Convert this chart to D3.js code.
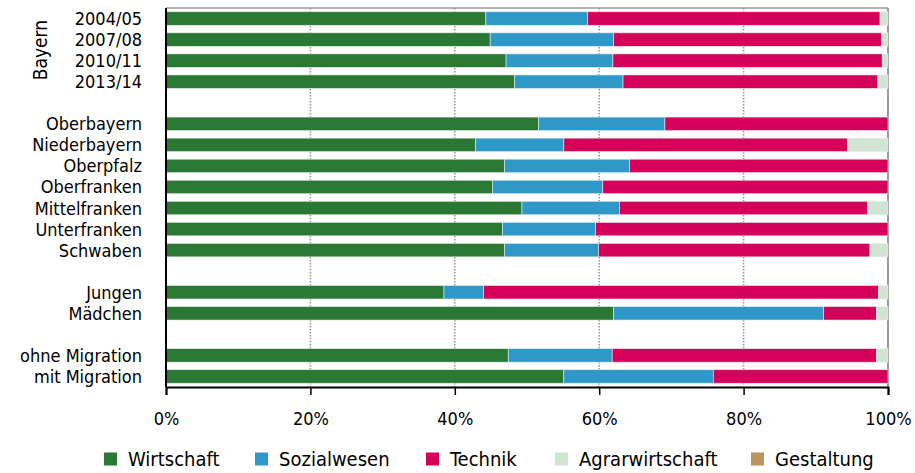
<!DOCTYPE html>
<html>
<head>
  <script src="https://cdnjs.cloudflare.com/ajax/libs/d3/7.8.5/d3.min.js"></script>
  <style>
    body { margin: 0; background: #fff; }
    svg { display: block; font-family: "DejaVu Sans Condensed", "DejaVu Sans", sans-serif; }
  </style>
</head>
<body>
<div id="chart"></div>
<script>
// rows, "" = empty spacer slot
var categories = ["2004/05", "2007/08", "2010/11", "2013/14", "",
    "Oberbayern", "Niederbayern", "Oberpfalz", "Oberfranken", "Mittelfranken", "Unterfranken", "Schwaben", "",
    "Jungen", "Mädchen", "",
    "ohne Migration", "mit Migration"];

var wirtschaft      = [44.3, 44.9, 47.1, 48.3, null, 51.6, 42.9, 46.9, 45.2, 49.3, 46.6, 46.9, null, 38.5, 62.0, null, 47.4, 55.1];
var sozialwesen     = [14.1, 17.1, 14.8, 15.0, null, 17.5, 12.2, 17.3, 15.3, 13.5, 12.9, 13.0, null,  5.5, 29.1, null, 14.4, 20.7];
var technik         = [40.5, 37.1, 37.3, 35.3, null, 30.9, 39.3, 35.8, 39.5, 34.4, 40.5, 37.6, null, 54.7,  7.3, null, 36.6, 24.2];
var agrarwirtschaft = [ 1.1,  0.9,  0.8,  1.4, null,  0.0,  5.6,  0.0,  0.0,  2.8,  0.0,  2.5, null,  1.3,  1.6, null,  1.6,  0.0];
var gestaltung      = [ 0.0,  0.0,  0.0,  0.0, null,  0.0,  0.0,  0.0,  0.0,  0.0,  0.0,  0.0, null,  0.0,  0.0, null,  0.0,  0.0];

var seriesNames = ["Wirtschaft", "Sozialwesen", "Technik", "Agrarwirtschaft", "Gestaltung"];
var seriesColors = ["#2a7834", "#2e99c9", "#d4005a", "#cfe5d1", "#b99660"];
var tickValues = [0, 20, 40, 60, 80, 100];
var tickLabels = ["0%", "20%", "40%", "60%", "80%", "100%"];

var width = 915, height = 473;
var margin = {top: 8, right: 27, bottom: 86, left: 166};

var svg = d3.select('#chart').append('svg')
    .attr('width', width)
    .attr('height', height);

var x = d3.scaleLinear()
    .domain([0, 100])
    .range([margin.left, width - margin.right]);

var y = d3.scaleBand()
    .domain(d3.range(categories.length))
    .range([margin.top, height - margin.bottom])
    .paddingInner(0.36)
    .paddingOuter(0.18);

// table for the stack
var table = categories.map(function(c, i) {
    return {
        idx: i, name: c,
        Wirtschaft: wirtschaft[i] || 0,
        Sozialwesen: sozialwesen[i] || 0,
        Technik: technik[i] || 0,
        Agrarwirtschaft: agrarwirtschaft[i] || 0,
        Gestaltung: gestaltung[i] || 0
    };
}).filter(function(d) { return d.name !== ""; });

var stacked = d3.stack().keys(seriesNames)(table);

//----------------------------------------
// grid lines (dotted)
svg.append('g').selectAll('line')
    .data([20, 40, 60, 80])
    .enter().append('line')
    .attr('x1', function(d) { return x(d); })
    .attr('x2', function(d) { return x(d); })
    .attr('y1', margin.top)
    .attr('y2', height - margin.bottom)
    .style('stroke', '#999')
    .style('stroke-width', 1.6)
    .style('stroke-dasharray', '1.5,1.5');

// frame top + right
svg.append('line')
    .attr('x1', x(0)).attr('x2', x(100))
    .attr('y1', margin.top).attr('y2', margin.top)
    .style('stroke', '#999').style('stroke-width', 1.5);
svg.append('line')
    .attr('x1', x(100)).attr('x2', x(100))
    .attr('y1', margin.top).attr('y2', height - margin.bottom)
    .style('stroke', '#999').style('stroke-width', 2);

//----------------------------------------
// bars
svg.append('g').selectAll('g')
    .data(stacked)
    .enter().append('g')
    .style('fill', function(d, i) { return seriesColors[i]; })
    .selectAll('rect')
    .data(function(d) { return d; })
    .enter().append('rect')
    .attr('x', function(d) { return x(d[0]); })
    .attr('width', function(d) { return x(d[1]) - x(d[0]); })
    .attr('y', function(d) { return y(d.data.idx); })
    .attr('height', y.bandwidth())
    .style('stroke', '#e8eee9')
    .style('stroke-width', 0.6);

//----------------------------------------
// axes
var xAxis = svg.append('g')
    .attr('transform', 'translate(0,' + (height - margin.bottom) + ')')
    .call(d3.axisBottom(x).tickValues(tickValues)
        .tickFormat(function(d, i) { return tickLabels[i]; })
        .tickSize(8).tickPadding(17));
xAxis.select('.domain').style('stroke', '#000').style('stroke-width', 2);
xAxis.selectAll('.tick line').style('stroke', '#000').style('stroke-width', 1.5);
xAxis.selectAll('.tick text')
    .style('font-family', '"DejaVu Sans Condensed", "DejaVu Sans", sans-serif')
    .style('font-size', '18px')
    .style('fill', '#000');

svg.append('line')
    .attr('x1', x(0)).attr('x2', x(0))
    .attr('y1', margin.top).attr('y2', height - margin.bottom)
    .style('stroke', '#000').style('stroke-width', 2);

// row labels
svg.append('g').selectAll('text')
    .data(table)
    .enter().append('text')
    .attr('x', x(0) - 24)
    .attr('y', function(d) { return y(d.idx) + y.bandwidth() / 2; })
    .attr('dy', '0.36em')
    .attr('text-anchor', 'end')
    .style('font-size', '18px')
    .text(function(d) { return d.name; });

// group label
var bayMid = (y(0) + y(3) + y.bandwidth()) / 2;
svg.append('text')
    .attr('transform', 'translate(40,' + bayMid + ') rotate(-90)')
    .attr('dy', '0.35em')
    .attr('text-anchor', 'middle')
    .style('font-size', '19px')
    .text('Bayern');

//----------------------------------------
// legend
var legendX = [104, 255, 426, 555, 751];
var legend = svg.append('g').selectAll('g')
    .data(seriesNames)
    .enter().append('g')
    .attr('transform', function(d, i) { return 'translate(' + legendX[i] + ',459)'; });
legend.append('rect')
    .attr('x', 0).attr('y', -6.5)
    .attr('width', 13).attr('height', 13)
    .style('fill', function(d, i) { return seriesColors[i]; });
legend.append('text')
    .attr('x', 24)
    .attr('dy', '0.36em')
    .style('font-size', '20px')
    .text(function(d) { return d; });
</script>
</body>
</html>
